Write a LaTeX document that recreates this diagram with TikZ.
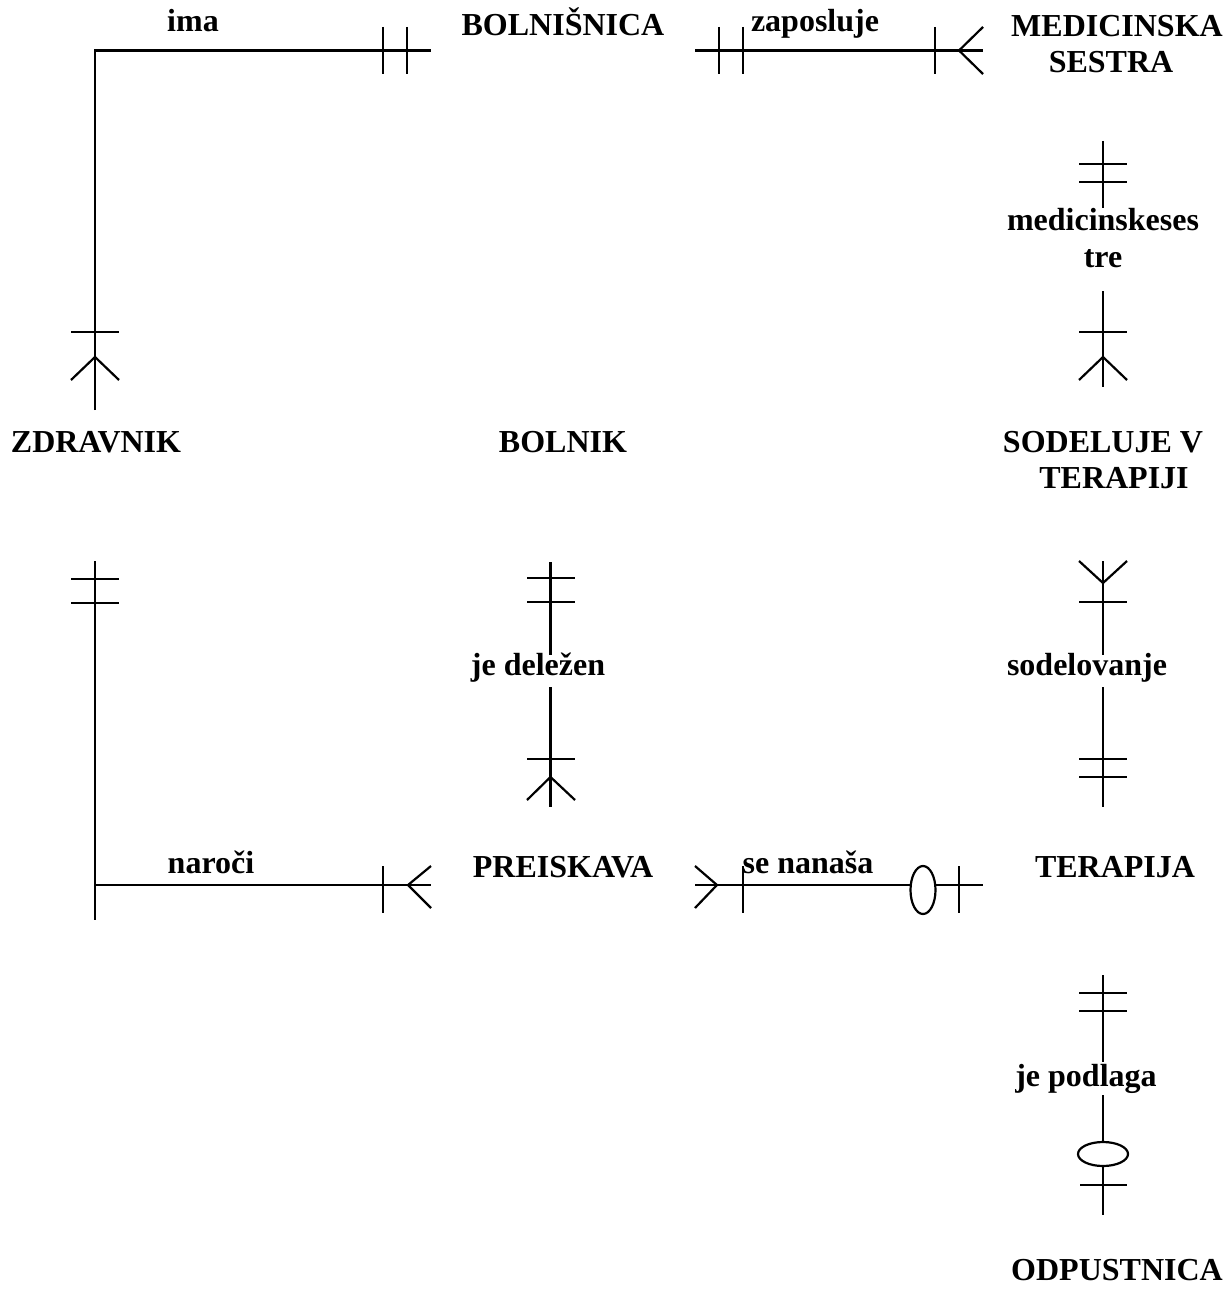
\documentclass[tikz,border=0pt]{standalone}
\usepackage{fontspec}
\setmainfont{Liberation Serif}
\begin{document}
\begin{tikzpicture}[x=1pt,y=-1pt,line width=2.2pt,
  lbl/.style={font=\bfseries\fontsize{32}{37}\selectfont,inner sep=0pt,anchor=base,align=center},
  bar/.style={line width=2.2pt},
  opt/.style={draw,fill=white,line width=2.2pt}]
\useasboundingbox (0,0) rectangle (1231,1292);

% entities
\node[lbl] (bol) at (563,36) {BOLNIŠNICA};
\node[lbl] (ms1) at (1117,37) {MEDICINSKA};
\node[lbl] (ms2) at (1111,73) {SESTRA};
\node[lbl] (zd) at (96,452) {ZDRAVNIK};
\node[lbl] (bk) at (563,452) {BOLNIK};
\node[lbl] (sv1) at (1103,452) {SODELUJE V};
\node[lbl] (sv2) at (1114,488) {TERAPIJI};
\node[lbl] (pr) at (563,877) {PREISKAVA};
\node[lbl] (te) at (1115,877) {TERAPIJA};
\node[lbl] (od) at (1117,1280) {ODPUSTNICA};

% relationship labels
\node[lbl] (ima) at (193,32) {ima};
\node[lbl] (zap) at (815,32) {zaposluje};
\node[lbl] (mss1) at (1103,230) {medicinskeses};
\node[lbl] (mss2) at (1103,267) {tre};
\node[lbl] (jd) at (538,675) {je deležen};
\node[lbl] (sod) at (1087,675) {sodelovanje};
\node[lbl] (nar) at (211,873) {naroči};
\node[lbl] (sen) at (808,873) {se nanaša};
\node[lbl] (jp) at (1086,1086) {je podlaga};

% ima: ZDRAVNIK -- BOLNISNICA
\coordinate (imaA) at (95,410);
\coordinate (imaK) at (95,50.5);
\coordinate (imaB) at (431,50.5);
\draw (imaA) -- (imaK) -- (imaB);
\draw[bar] (383,27) -- (383,74);
\draw[bar] (407,27) -- (407,74);
\draw[bar] (71,332) -- (119,332);
\draw[bar] (71,380) -- (95,357) -- (119,380);

% zaposluje: BOLNISNICA -- MEDICINSKA SESTRA
\coordinate (zapA) at (695,50.5);
\coordinate (zapB) at (983,50.5);
\draw (zapA) -- (zapB);
\draw[bar] (719,27) -- (719,74);
\draw[bar] (743,27) -- (743,74);
\draw[bar] (935,27) -- (935,74);
\draw[bar] (983,27) -- (959,50.5) -- (983,74);

% medicinskesestre: MEDICINSKA SESTRA -- SODELUJE V TERAPIJI
\coordinate (mssA) at (1103,141);
\coordinate (mssA2) at (1103,208);
\coordinate (mssB2) at (1103,291);
\coordinate (mssB) at (1103,387);
\draw (mssA) -- (mssA2);
\draw (mssB2) -- (mssB);
\draw[bar] (1079,164) -- (1127,164);
\draw[bar] (1079,182) -- (1127,182);
\draw[bar] (1079,332) -- (1127,332);
\draw[bar] (1079,380) -- (1103,357) -- (1127,380);

% sodelovanje: SODELUJE V TERAPIJI -- TERAPIJA
\coordinate (sodA) at (1103,561);
\coordinate (sodA2) at (1103,655);
\coordinate (sodB2) at (1103,687);
\coordinate (sodB) at (1103,807);
\draw (sodA) -- (sodA2);
\draw (sodB2) -- (sodB);
\draw[bar] (1079,561) -- (1103,583) -- (1127,561);
\draw[bar] (1079,602) -- (1127,602);
\draw[bar] (1079,759) -- (1127,759);
\draw[bar] (1079,777) -- (1127,777);

% je delezen: BOLNIK -- PREISKAVA
\coordinate (jdA) at (550.5,562);
\coordinate (jdA2) at (550.5,655);
\coordinate (jdB2) at (550.5,687);
\coordinate (jdB) at (550.5,807);
\draw (jdA) -- (jdA2);
\draw (jdB2) -- (jdB);
\draw[bar] (527,578) -- (575,578);
\draw[bar] (527,602) -- (575,602);
\draw[bar] (527,759) -- (575,759);
\draw[bar] (527,800) -- (550.5,777) -- (575,800);

% naroci: ZDRAVNIK -- PREISKAVA
\coordinate (narA) at (95,561);
\coordinate (narE) at (95,920);
\coordinate (narK) at (95,885);
\coordinate (narB) at (431,885);
\draw (narA) -- (narE);
\draw (narK) -- (narB);
\draw[bar] (71,579) -- (119,579);
\draw[bar] (71,603) -- (119,603);
\draw[bar] (383,866) -- (383,913);
\draw[bar] (431,866) -- (408,885) -- (431,908);

% se nanasa: PREISKAVA -- TERAPIJA
\coordinate (senA) at (695,885);
\coordinate (senB) at (983,885);
\draw (senA) -- (senB);
\draw[bar] (695,866) -- (717,885) -- (695,908);
\draw[bar] (743,866) -- (743,913);
\draw[opt] (923,890) ellipse [x radius=12.5pt, y radius=24pt];
\draw[bar] (959,866) -- (959,913);

% je podlaga: TERAPIJA -- ODPUSTNICA
\coordinate (jpA) at (1103,975);
\coordinate (jpA2) at (1103,1062);
\coordinate (jpB2) at (1103,1095);
\coordinate (jpB) at (1103,1215);
\draw (jpA) -- (jpA2);
\draw (jpB2) -- (jpB);
\draw[bar] (1079,993) -- (1127,993);
\draw[bar] (1079,1011) -- (1127,1011);
\draw[opt] (1103,1154) ellipse [x radius=25pt, y radius=12pt];
\draw[bar] (1080,1185) -- (1127,1185);
\end{tikzpicture}
\end{document}
